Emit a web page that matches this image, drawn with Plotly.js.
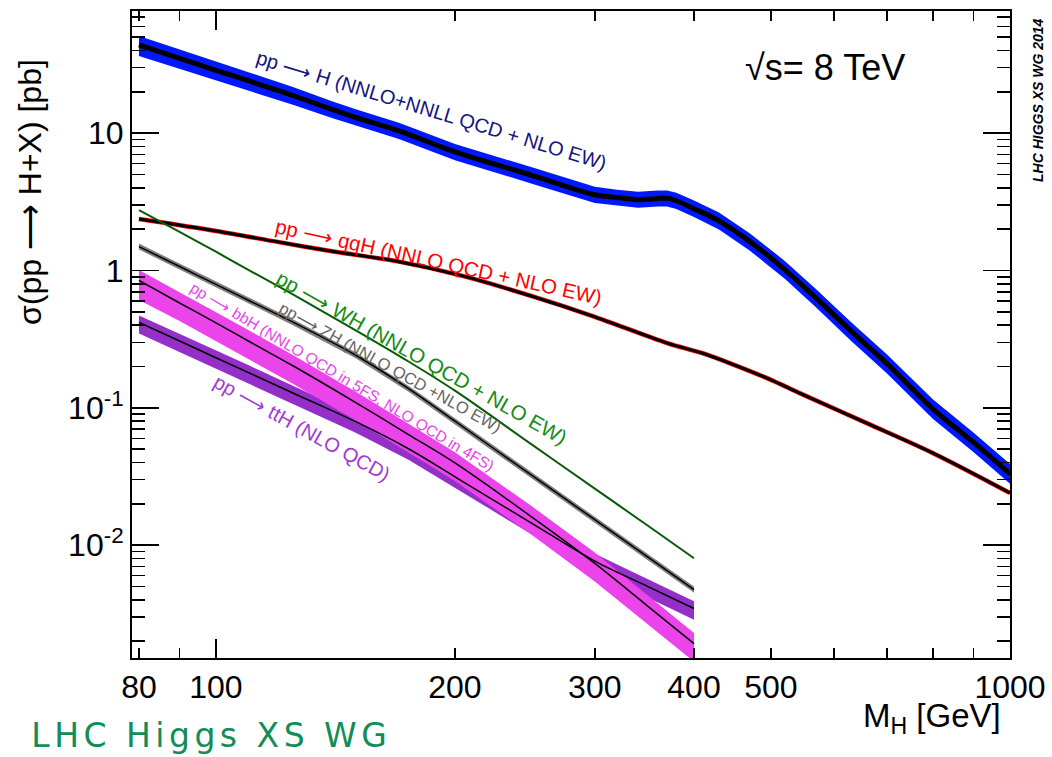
<!DOCTYPE html>
<html><head><meta charset="utf-8">
<script src="https://cdn.plot.ly/plotly-3.0.1.min.js"></script>
<style>html,body{margin:0;padding:0;background:#fff}</style>
</head><body><div id="chart" style="width:1052px;height:757px"></div>
<script>
// ---- data (sigma in pb vs M_H in GeV) ----
const massGGF = [80,90,100,110,125,140,150,170,200,250,300,320,340,360,370,380,400,430,470,520,570,630,700,800,900,1000];
const ggfCentral = [43.9,35.0,28.7,24.0,18.8,14.9,13.0,10.4,7.3,4.93,3.56,3.4,3.28,3.35,3.35,3.22,2.82,2.3,1.63,1.02,0.63,0.365,0.21,0.098,0.056,0.033];
const ggfUp = [51.0,40.6,33.2,27.7,21.7,17.1,14.9,11.9,8.35,5.64,4.07,3.88,3.75,3.83,3.83,3.68,3.23,2.64,1.87,1.18,0.73,0.424,0.245,0.115,0.066,0.039];
const ggfDown = [36.4,29.2,24.1,20.4,16.1,12.9,11.3,9.05,6.35,4.29,3.10,2.96,2.86,2.92,2.92,2.80,2.45,1.99,1.40,0.875,0.537,0.31,0.178,0.083,0.0475,0.028];

const massVBF = [80,100,120,140,170,205,250,300,370,410,450,500,545,660,800,1000];
const vbfCentral = [2.37,1.94,1.61,1.38,1.16,0.91,0.65,0.46,0.296,0.25,0.205,0.16,0.127,0.0774,0.0468,0.024];

const massLow = [80,90,100,110,125,150,175,200,250,300,350,400];
const whCentral = [2.75,1.91,1.37,1.007,0.669,0.367,0.2167,0.1334,0.054,0.02584,0.01385,0.00804];
const zhCentral = [1.493,1.069,0.793,0.605,0.421,0.2416,0.1375,0.080,0.0322,0.01534,0.00818,0.00475];
const zhUp = [1.57,1.12,0.833,0.635,0.442,0.254,0.144,0.084,0.0338,0.0161,0.0086,0.0050];
const zhDown = [1.42,1.016,0.753,0.575,0.40,0.2295,0.1306,0.076,0.0306,0.01457,0.00777,0.00451];
const bbhCentral = [0.848,0.580,0.416,0.3055,0.2026,0.1093,0.0636,0.0397,0.01602,0.00737,0.00359,0.00192];
const bbhUp = [1.01,0.696,0.50,0.367,0.243,0.131,0.0763,0.0476,0.0192,0.00884,0.00431,0.0023];
const bbhDown = [0.61,0.429,0.308,0.226,0.150,0.0809,0.0471,0.0294,0.01185,0.00545,0.00266,0.00142];
const tthCentral = [0.419,0.3065,0.2317,0.1802,0.1284,0.0793,0.0502,0.0315,0.01444,0.00766,0.0050,0.00346];
const tthUp = [0.47,0.346,0.262,0.204,0.145,0.0896,0.0567,0.0356,0.01632,0.00866,0.00565,0.00391];
const tthDown = [0.348,0.254,0.192,0.150,0.1066,0.0658,0.0417,0.0261,0.01199,0.00636,0.00415,0.00287];

const xTickVals = [80,100,200,300,400,500,1000];
const xTickText = ['80','100','200','300','400','500','1000'];
const xMinorVals = [90,600,700,800,900];
const xLongTickVals = [100,1000];
const yTickVals = [0.01,0.1,1,10];
const yTickText = ['10<sup>-2</sup>','10<sup>-1</sup>','1','10'];
const yMinorVals = [0.002,0.003,0.004,0.005,0.006,0.007,0.008,0.009,0.02,0.03,0.04,0.05,0.06,0.07,0.08,0.09,
  0.2,0.3,0.4,0.5,0.6,0.7,0.8,0.9,2,3,4,5,6,7,8,9,20,30,40,50,60,70];

const FONT = 'Liberation Sans, Arial, Helvetica, sans-serif';
const ARROW = '\u27f6';

function band(x, up, down, color) {
  return {
    x: x.concat(x.slice().reverse()),
    y: up.concat(down.slice().reverse()),
    type: 'scatter', mode: 'lines', fill: 'toself', fillcolor: color,
    line: {width: 0, color: color}, hoverinfo: 'skip', showlegend: false
  };
}
function curve(x, y, color, width) {
  return {x: x, y: y, type: 'scatter', mode: 'lines',
    line: {color: color, width: width, shape: 'spline', smoothing: 0.9},
    hoverinfo: 'skip', showlegend: false};
}

const BLUE = 'rgb(0,24,255)';
const MAGENTA = 'rgb(234,68,234)';
const PURPLE = 'rgb(148,48,200)';
const GREY = 'rgb(128,128,128)';

const traces = [
  band(massGGF, ggfUp, ggfDown, BLUE),
  curve(massGGF, ggfCentral, '#000', 5),
  curve(massVBF, vbfCentral, 'rgb(255,0,0)', 4.5),
  curve(massVBF, vbfCentral, '#000', 3),
  curve(massLow, whCentral, 'rgb(8,90,8)', 2),
  band(massLow, zhUp, zhDown, GREY),
  curve(massLow, zhCentral, '#000', 1.5),
  band(massLow, tthUp, tthDown, PURPLE),
  band(massLow, bbhUp, bbhDown, MAGENTA),
  curve(massLow, bbhCentral, '#000', 1.5),
  curve(massLow, tthCentral, '#000', 1.5),
  {x: [], y: [], xaxis: 'x2', yaxis: 'y', type: 'scatter', showlegend: false, hoverinfo: 'skip'}
];

// plot frame in pixels: x 132..1010, y 11..658
const L = 132, R = 1010, T = 11, B = 658;
const px = v => (v - L) / (R - L);
const py = v => (B - v) / (B - T);

function label(text, cx, cy, angle, size, color, extra) {
  return Object.assign({
    text: text, xref: 'paper', yref: 'paper', x: px(cx), y: py(cy),
    xanchor: 'center', yanchor: 'middle', showarrow: false, textangle: angle,
    font: {family: FONT, size: size, color: color}
  }, extra || {});
}

const annotations = [
  label('pp ' + ARROW + ' H (NNLO+NNLL QCD + NLO EW)', 431, 110, 17, 20, 'rgb(20,20,130)'),
  label('pp ' + ARROW + ' qqH (NNLO QCD + NLO EW)', 439, 261, 12.5, 20.5, 'rgb(255,0,0)'),
  label('pp ' + ARROW + ' WH (NNLO QCD + NLO EW)', 422, 357, 29.5, 20.5, 'rgb(20,140,20)'),
  label('pp' + ARROW + ' ZH (NNLO QCD +NLO EW)', 390, 367, 29, 16.5, 'rgb(100,100,100)'),
  label('pp ' + ARROW + ' bbH (NNLO QCD in 5FS, NLO QCD in 4FS)', 342, 376, 31, 15.5, MAGENTA),
  label('pp ' + ARROW + ' ttH (NLO QCD)', 302, 428, 29, 20, 'rgb(160,60,210)'),
  label('\u221As= 8 TeV', 825, 67, 0, 36, '#000'),
  label('<b><i>LHC HIGGS XS WG 2014</i></b>', 1038, 100, -90, 14, '#000'),
  label('\u03c3(pp ' + ARROW + ' H+X) [pb]', 30, 192, -90, 32, '#000'),
  label('M<sub>H</sub> [GeV]', 1003, 718, 0, 33, '#000', {xanchor: 'right'}),
  label('LHC Higgs XS WG', 211, 736, 0, 33, 'rgb(16,142,86)', {font: {family: 'DejaVu Sans, Verdana, sans-serif', size: 33, color: 'rgb(16,142,86)'}})
];

const layout = {
  width: 1052, height: 757,
  margin: {l: L, r: 1052 - R, t: T, b: 757 - B, pad: 0},
  paper_bgcolor: '#fff', plot_bgcolor: '#fff',
  showlegend: false,
  font: {family: FONT, size: 32, color: '#000'},
  xaxis: {
    type: 'log', range: [Math.log10(78.4), 3],
    tickmode: 'array', tickvals: xTickVals, ticktext: xTickText,
    ticks: 'inside', ticklen: 10, tickwidth: 1.5, tickcolor: '#000',
    minor: {tickmode: 'array', tickvals: xMinorVals, ticks: 'inside', ticklen: 10, tickwidth: 1.5, tickcolor: '#000', showgrid: false},
    showline: true, linewidth: 2, linecolor: '#000', mirror: 'ticks',
    showgrid: false, zeroline: false,
    tickfont: {family: FONT, size: 32, color: '#000'}
  },
  xaxis2: {
    type: 'log', range: [Math.log10(78.4), 3], overlaying: 'x', anchor: 'y',
    tickmode: 'array', tickvals: xLongTickVals, showticklabels: false,
    ticks: 'inside', ticklen: 19, tickwidth: 1.5, tickcolor: '#000',
    showline: false, mirror: 'ticks', showgrid: false, zeroline: false
  },
  yaxis: {
    type: 'log', range: [Math.log10(0.00151), Math.log10(77.5)],
    tickmode: 'array', tickvals: yTickVals, ticktext: yTickText,
    ticks: 'inside', ticklen: 27, tickwidth: 1.5, tickcolor: '#000',
    minor: {tickmode: 'array', tickvals: yMinorVals, ticks: 'inside', ticklen: 13, tickwidth: 1.5, tickcolor: '#000', showgrid: false},
    showline: true, linewidth: 2, linecolor: '#000', mirror: 'ticks',
    showgrid: false, zeroline: false,
    tickfont: {family: FONT, size: 32, color: '#000'}
  },
  annotations: annotations
};

Plotly.newPlot('chart', traces, layout, {staticPlot: true, displayModeBar: false}).then(function () {
  document.querySelectorAll('.annotation-text').forEach(function (t) {
    if (t.textContent === 'LHC Higgs XS WG') t.style.letterSpacing = '4.5px';
  });
});
</script>
</body></html>
